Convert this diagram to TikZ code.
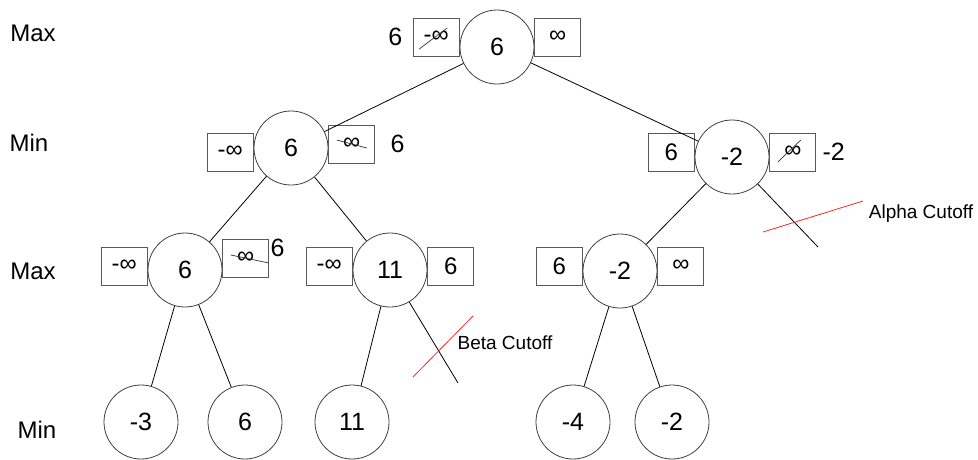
\documentclass[tikz,border=0pt]{standalone}
\usepackage{fontspec}
\setmainfont{Liberation Sans}
\usepackage{tikz}
\usetikzlibrary{arrows,positioning}
\tikzset{
    %Define style for tree states
    state/.style={
           circle,
           draw=black!75, line width=0.8pt,
           minimum size=74pt,
           inner sep=0pt,
           font=\fontsize{25}{30}\selectfont,
           text centered},
    %Define style for alpha and beta boxes
    bound/.style={
           rectangle,
           draw=black!65, line width=0.8pt,
           minimum width=46pt,
           minimum height=38pt,
           inner sep=0pt,
           font=\fontsize{24}{28}\selectfont,
           text centered},
    %Define style for updated values
    value/.style={
           inner sep=0pt,
           font=\fontsize{25}{30}\selectfont},
    level/.style={
           font=\fontsize{24}{28}\selectfont},
    cutoff/.style={
           font=\fontsize{19}{22}\selectfont},
    % Define line styles
    strike/.style={draw=black!80, line width=0.7pt},
    cut/.style={draw=red!85, line width=0.8pt}
}

\begin{document}
\begin{tikzpicture}[-,x=1pt,y=-1pt,node distance=0pt,line width=0.8pt]
\useasboundingbox (0,0) rectangle (978,459);
% level names
\node[level] (m1) at (33,33) {Max};
\node[level] (m2) at (29,143) {Min};
\node[level] (m3) at (33,271) {Max};
\node[level] (m4) at (37,430) {Min};
% tree
\node[state] (1) at (497,47) {6};
\node[state] (2) at (291,148) {6};
\node[state] (3) at (732,157) {-2};
\node[state] (4) at (185,270) {6};
\node[state] (5) at (390,270) {11};
\node[state] (6) at (620,271) {-2};
\node[state] (7) at (141,422) {-3};
\node[state] (8) at (245,422) {6};
\node[state] (9) at (352,422) {11};
\node[state] (10) at (573,422) {-4};
\node[state] (11) at (672,422) {-2};
% alpha and beta
\node[bound, left=of 1, yshift=10pt] (1a) {-∞};
\node[bound, right=of 1, yshift=10pt] (1b) {∞};
\node[bound, left=of 2, yshift=-4pt] (2a) {-∞};
\node[bound, right=of 2, yshift=4pt] (2b) {∞};
\node[bound, left=of 3, yshift=5pt] (3a) {6};
\node[bound, right=of 3, yshift=5pt] (3b) {∞};
\node[bound, left=of 4, yshift=4pt] (4a) {-∞};
\node[bound, right=of 4, yshift=12pt] (4b) {∞};
\node[bound, left=of 5, yshift=4pt] (5a) {-∞};
\node[bound, right=of 5, yshift=4pt] (5b) {6};
\node[bound, left=of 6, yshift=5pt] (6a) {6};
\node[bound, right=of 6, yshift=5pt] (6b) {∞};
% updated values
\node[value, left=10pt of 1a] (1c) {6};
\node[value, right=15pt of 2b] (2c) {6};
\node[value, right=6pt of 3b] (3c) {-2};
\node[value, right=1pt of 4b, yshift=10pt] (4c) {6};
\draw[strike] (1a.center) ++(-17,12) -- ++(28,-21);
\draw[strike] (2b.center) ++(-15,-4) -- ++(30,8);
\draw[strike] (3b.center) ++(-15,10) -- ++(23,-22);
\draw[strike] (4b.center) ++(-15,-3) -- ++(38,8);
\path[]
	(1) edge (2)
	(1) edge (3)
	(2) edge (4)
	(2) edge (5)
	(3) edge (6)
	(4) edge (7)
	(4) edge (8)
	(5) edge (9)
	(6) edge (10)
	(6) edge (11);
% cutoffs
\coordinate (ac) at (818,247);
\coordinate (bc) at (458,383);
\path[]
	(3) edge (ac)
	(5) edge (bc);
\draw[cut] (763,232) -- (863,201);
\draw[cut] (413,377) -- (473,316);
\node[cutoff] (at) at (921,214) {Alpha Cutoff};
\node[cutoff] (bt) at (505,343) {Beta Cutoff};
\end{tikzpicture}
\end{document}
